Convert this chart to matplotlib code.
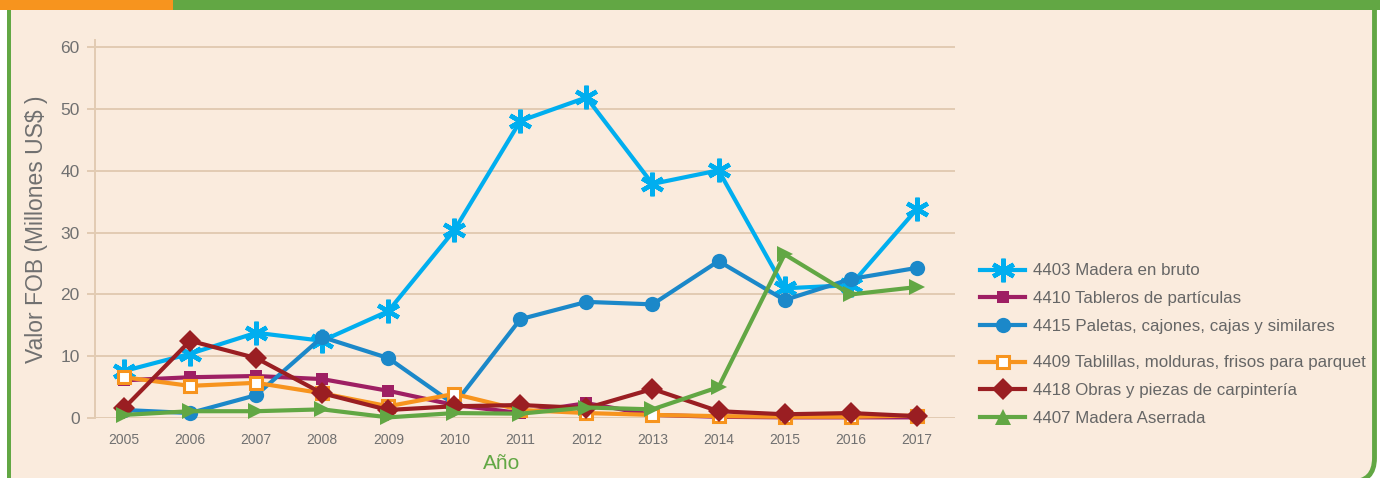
#!/usr/bin/env python3
"""Exportaciones de productos de madera, valor FOB 2005-2017."""

import matplotlib
matplotlib.use("Agg")
import matplotlib.pyplot as plt
from matplotlib.lines import Line2D
from matplotlib.patches import Rectangle, FancyBboxPatch

plt.rcParams['font.family'] = ['Liberation Sans', 'DejaVu Sans']

# Data
years = [2005, 2006, 2007, 2008, 2009, 2010, 2011, 2012, 2013, 2014, 2015, 2016, 2017]
madera_bruto = [7.6, 10.4, 13.8, 12.5, 17.3, 30.4, 48.1, 51.9, 37.9, 40.1, 21.0, 21.5, 33.8]
tableros = [6.1, 6.6, 6.8, 6.3, 4.4, 2.1, 0.8, 2.4, 0.5, 0.2, 0.1, 0.1, 0.1]
paletas = [1.3, 0.8, 3.7, 13.1, 9.7, 2.2, 16.0, 18.8, 18.4, 25.4, 19.1, 22.5, 24.3]
tablillas = [6.6, 5.2, 5.7, 4.0, 1.9, 3.9, 1.3, 0.8, 0.5, 0.3, 0.2, 0.2, 0.4]
obras = [1.6, 12.5, 9.7, 4.0, 1.3, 1.9, 2.1, 1.6, 4.7, 1.1, 0.6, 0.8, 0.3]
aserrada = [0.5, 1.1, 1.1, 1.4, 0.1, 0.8, 0.7, 1.7, 1.4, 5.0, 26.5, 20.0, 21.2]

labels = ['4403 Madera en bruto', '4410 Tableros de partículas',
          '4415 Paletas, cajones, cajas y similares',
          '4409 Tablillas, molduras, frisos para parquet',
          '4418 Obras y piezas de carpintería', '4407 Madera Aserrada']
y_ticks = [0, 10, 20, 30, 40, 50, 60]

W, H = 1380, 478
GREEN = '#62a744'
ORANGE = '#f7941e'
CREAM = '#faebdd'
TAN = '#e2cbb2'
GREY = '#707070'

fig = plt.figure(figsize=(W / 100, H / 100), dpi=100, facecolor='white')

# background frame drawn in pixel coordinates
bg = fig.add_axes([0, 0, 1, 1], zorder=0)
bg.set_xlim(0, W)
bg.set_ylim(H, 0)
bg.axis('off')
# panel with only the bottom-right corner rounded inside the picture
bg.add_patch(FancyBboxPatch((-40, -40), 1414.5, 522, boxstyle='round,pad=0,rounding_size=24',
                            facecolor=CREAM, edgecolor=GREEN, linewidth=3.5))
bg.add_patch(Rectangle((0, 0), 7, H, facecolor='white', edgecolor='none'))
bg.add_patch(Rectangle((7, 0), 4, H, facecolor=GREEN, edgecolor='none'))
bg.add_patch(Rectangle((0, 0), 173, 10, facecolor=ORANGE, edgecolor='none'))
bg.add_patch(Rectangle((173, 0), W - 173, 10, facecolor=GREEN, edgecolor='none'))

ax = fig.add_axes([95 / W, 1 - 418 / H, 860 / W, 378 / H], zorder=1)
ax.set_facecolor('none')
ax.set_xlim(2004.56, 2017.58)
ax.set_ylim(0, 61.2)

styles = [
    dict(color='#00aeef', marker=(6, 2, 0), ms=17, mew=3.2),
    dict(color='#9e1f63', marker='s', ms=9, mew=0),
    dict(color='#1b88c9', marker='o', ms=11, mew=0),
    dict(color=ORANGE, marker='s', ms=9, mew=2.2, mfc='white'),
    dict(color='#9a1e22', marker='D', ms=11, mew=0),
    dict(color=GREEN, marker='>', ms=12, mew=0),
]
series = [madera_bruto, tableros, paletas, tablillas, obras, aserrada]
draw_order = [3, 1, 2, 4, 5, 0]
for i in draw_order:
    ax.plot(years, series[i], lw=3, clip_on=False, zorder=3 + i, **styles[i])

ax.set_yticks(y_ticks)
ax.set_xticks(years)
ax.grid(axis='y', color=TAN, lw=1.4)
ax.set_axisbelow(True)
for s in ['top', 'right', 'bottom']:
    ax.spines[s].set_visible(False)
ax.spines['left'].set_color(TAN)
ax.spines['left'].set_linewidth(1.4)
ax.tick_params(axis='y', length=6, width=1.4, color=TAN, labelcolor=GREY, labelsize=12.5, pad=5)
ax.tick_params(axis='x', length=0, labelcolor=GREY, labelsize=10, pad=11)

ax.set_ylabel('Valor FOB (Millones US$ )', fontsize=16.5, color=GREY)
ax.yaxis.set_label_coords(-0.055, 0.5)
ax.set_xlabel('Año', fontsize=15, color=GREEN)
ax.xaxis.set_label_coords(0.473, -0.095)

# legend, split in two groups like the original
handles = []
for st in styles:
    st = dict(st)
    if st['marker'] == '>':
        st['marker'] = '^'
        st['ms'] = 11
    handles.append(Line2D([], [], lw=3, **st))

leg_kw = dict(frameon=False, fontsize=12.2, labelcolor='#666666', handlelength=2.6,
              handletextpad=0.5, labelspacing=0.76, borderpad=0, loc='upper left',
              bbox_transform=bg.transData)
leg1 = fig.legend(handles[:3], labels[:3], bbox_to_anchor=(972, 255), **leg_kw)
leg2 = fig.legend(handles[3:], labels[3:], bbox_to_anchor=(972, 347), **leg_kw)

fig.savefig('out.png', dpi=100, facecolor='white')
